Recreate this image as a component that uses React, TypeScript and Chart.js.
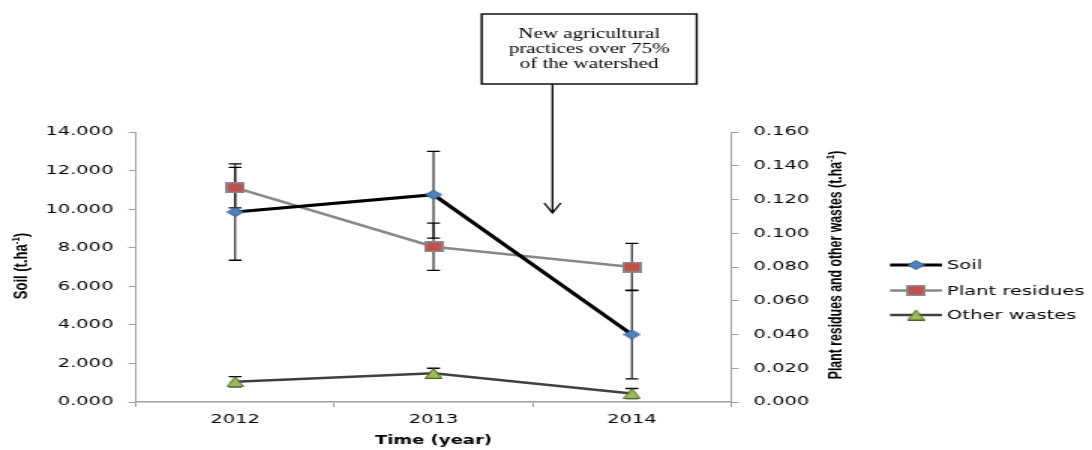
import React, { useEffect, useRef } from 'react';
import { Chart, registerables } from 'chart.js';

Chart.register(...registerables);

// ---------- data ----------
const years = ['2012', '2013', '2014'];
const seriesLabels = ['Soil', 'Plant residues', 'Other wastes'];
const soil = [9.85, 10.75, 3.5];
const soilErr = [2.5, 2.25, 2.3];
const plantResidues = [0.127, 0.092, 0.08];
const plantErr = [0.012, 0.014, 0.014];
const otherWastes = [0.012, 0.017, 0.005];
const otherErr = [0.003, 0.003, 0.003];
const leftAxis = { min: 0, max: 14, step: 2 };
const rightAxis = { min: 0, max: 0.16, step: 0.02 };
const annotationLines = ['New agricultural', 'practices over 75%', 'of the watershed'];
const annotationAt = 1.6; // position between 2013 and 2014 (category index)
const annotationTip = 9.8; // left-axis value at arrow tip
const xTitle = 'Time (year)';
const leftTitle = ['Soil (t.ha', '-1', ')'];
const rightTitle = ['Plant residues and other wastes (t.ha', '-1', ')'];

// ---------- layout ----------
const W = 1092;
const H = 450;
const SX = 1.5; // horizontal stretch of the whole drawing
const CW = Math.round(W / SX);
const PLOT_LEFT = 136 / SX;
const PLOT_RIGHT = 731 / SX;
const PLOT_TOP = 132;
const PLOT_BOTTOM = 402;

const TICK_FONT = { family: '"DejaVu Sans", Verdana, sans-serif', size: 13 };
const AXIS_COLOR = '#A0A0A0';

function makeMarker(kind: string): HTMLCanvasElement {
  const c = document.createElement('canvas');
  let w = 12, h = 10;
  if (kind === 'square') { w = 13; h = 11; }
  if (kind === 'triangle') { w = 12; h = 11; }
  c.width = w; c.height = h;
  const ctx = c.getContext('2d')!;
  ctx.lineWidth = 1;
  ctx.beginPath();
  if (kind === 'diamond') {
    ctx.moveTo(w / 2, 0.5); ctx.lineTo(w - 0.5, h / 2); ctx.lineTo(w / 2, h - 0.5); ctx.lineTo(0.5, h / 2);
    ctx.closePath();
    ctx.fillStyle = '#4F81BD'; ctx.strokeStyle = '#385D8A';
  } else if (kind === 'square') {
    ctx.rect(0.75, 0.75, w - 1.5, h - 1.5);
    ctx.fillStyle = '#C0504D'; ctx.strokeStyle = '#8C8C8C'; ctx.lineWidth = 1.5;
  } else {
    ctx.moveTo(w / 2, 0.5); ctx.lineTo(w - 0.5, h - 0.5); ctx.lineTo(0.5, h - 0.5);
    ctx.closePath();
    ctx.fillStyle = '#9BBB59'; ctx.strokeStyle = '#4F6228';
  }
  ctx.fill(); ctx.stroke();
  return c;
}

function drawSupText(ctx: CanvasRenderingContext2D, parts: string[], x: number, y: number, size: number, family: string, rot: number) {
  const mainFont = `bold ${size}px ${family}`;
  const supFont = `bold ${Math.round(size * 0.62)}px ${family}`;
  ctx.save();
  ctx.translate(x, y);
  ctx.rotate(rot);
  ctx.textBaseline = 'middle';
  ctx.textAlign = 'left';
  ctx.fillStyle = '#000';
  ctx.font = mainFont; const w1 = ctx.measureText(parts[0]).width; const w3 = ctx.measureText(parts[2]).width;
  ctx.font = supFont; const w2 = ctx.measureText(parts[1]).width;
  let cx = -(w1 + w2 + w3) / 2;
  ctx.font = mainFont; ctx.fillText(parts[0], cx, 0); cx += w1;
  ctx.font = supFont; ctx.fillText(parts[1], cx, -size * 0.32); cx += w2;
  ctx.font = mainFont; ctx.fillText(parts[2], cx, 0);
  ctx.restore();
}

export default function App() {
  const ref = useRef<HTMLCanvasElement | null>(null);

  useEffect(() => {
    if (!ref.current) return;
    const markers = [makeMarker('diamond'), makeMarker('square'), makeMarker('triangle')];
    const errors = [soilErr, plantErr, otherErr];

    const errorBars = {
      id: 'errorBars',
      beforeDatasetsDraw(chart: any) {
        const ctx = chart.ctx;
        ctx.save();
        ctx.strokeStyle = '#000';
        chart.data.datasets.forEach((ds: any, i: number) => {
          const meta = chart.getDatasetMeta(i);
          const scale = chart.scales[ds.yAxisID];
          ds.data.forEach((v: number, j: number) => {
            const e = errors[i][j];
            const x = meta.data[j].x;
            const yt = scale.getPixelForValue(v + e);
            const yb = scale.getPixelForValue(v - e);
            ctx.lineWidth = 1;
            ctx.beginPath(); ctx.moveTo(x, yt); ctx.lineTo(x, yb); ctx.stroke();
            ctx.lineWidth = 1.3;
            ctx.beginPath();
            ctx.moveTo(x - 4.3, yt); ctx.lineTo(x + 4.3, yt);
            ctx.moveTo(x - 4.3, yb); ctx.lineTo(x + 4.3, yb);
            ctx.stroke();
          });
        });
        ctx.restore();
      },
    };

    const extras = {
      id: 'extras',
      afterDraw(chart: any) {
        const ctx = chart.ctx;
        const area = chart.chartArea;
        const xs = chart.scales.x;
        const ys = chart.scales.y;
        ctx.save();
        // axis titles
        const condensed = '"Liberation Sans Narrow", "Liberation Sans", Arial, sans-serif';
        drawSupText(ctx, leftTitle, 14.8, 266, 13, condensed, -Math.PI / 2);
        drawSupText(ctx, rightTitle, 558, 265, 12.3, condensed, -Math.PI / 2);
        ctx.font = 'bold 12px "DejaVu Sans", Verdana, sans-serif';
        ctx.fillStyle = '#000';
        ctx.textAlign = 'center';
        ctx.textBaseline = 'middle';
        ctx.fillText(xTitle, (area.left + area.right) / 2, 441);

        // legend
        const legendY = [265, 290.5, 315];
        const lx1 = 890 / SX, lx2 = 942 / SX, tx = 947 / SX;
        chart.data.datasets.forEach((ds: any, i: number) => {
          const y = legendY[i];
          ctx.strokeStyle = ds.borderColor;
          ctx.lineWidth = ds.borderWidth;
          ctx.beginPath(); ctx.moveTo(lx1, y); ctx.lineTo(lx2, y); ctx.stroke();
          const m = markers[i];
          ctx.drawImage(m, (lx1 + lx2) / 2 - m.width / 2, y - m.height / 2);
          ctx.font = `${TICK_FONT.size}px ${TICK_FONT.family}`;
          ctx.fillStyle = '#000';
          ctx.textAlign = 'left';
          ctx.textBaseline = 'middle';
          ctx.fillText(ds.label, tx, y + 1);
        });

        // annotation box + arrow
        const bx1 = 481.7 / SX, bx2 = 696.7 / SX, by1 = 14, by2 = 84;
        ctx.strokeStyle = '#000';
        ctx.lineWidth = 1.4;
        ctx.fillStyle = '#fff';
        ctx.fillRect(bx1, by1, bx2 - bx1, by2 - by1);
        ctx.strokeRect(bx1, by1, bx2 - bx1, by2 - by1);
        ctx.fillStyle = '#000';
        ctx.font = '14px "Liberation Serif", "Times New Roman", serif';
        ctx.textAlign = 'center';
        ctx.textBaseline = 'middle';
        annotationLines.forEach((t, k) => ctx.fillText(t, (bx1 + bx2) / 2, 34 + k * 15));
        const ax = xs.getPixelForValue(annotationAt);
        const ay = ys.getPixelForValue(annotationTip);
        ctx.lineWidth = 1.3;
        ctx.beginPath();
        ctx.moveTo(ax, by2); ctx.lineTo(ax, ay);
        ctx.moveTo(ax - 5.5, ay - 10); ctx.lineTo(ax, ay); ctx.lineTo(ax + 5.5, ay - 10);
        ctx.stroke();
        ctx.restore();
      },
    };

    const fmt = (v: any) => Number(v).toFixed(3);

    const chart = new Chart(ref.current, {
      type: 'line',
      data: {
        labels: years,
        datasets: [
          { label: seriesLabels[0], data: soil, yAxisID: 'y', borderColor: '#000000', borderWidth: 3.2, pointStyle: markers[0] as any, pointRadius: 5, tension: 0, order: 1 },
          { label: seriesLabels[1], data: plantResidues, yAxisID: 'y1', borderColor: '#888888', borderWidth: 2.6, pointStyle: markers[1] as any, pointRadius: 5, tension: 0, order: 2 },
          { label: seriesLabels[2], data: otherWastes, yAxisID: 'y1', borderColor: '#404040', borderWidth: 2.6, pointStyle: markers[2] as any, pointRadius: 5, tension: 0, order: 3 },
        ],
      },
      options: {
        responsive: false,
        devicePixelRatio: 1,
        animation: false,
        events: [],
        layout: { padding: { top: PLOT_TOP, left: 0, right: 0, bottom: 0 } },
        plugins: { legend: { display: false }, tooltip: { enabled: false } },
        scales: {
          x: {
            type: 'category',
            offset: true,
            grid: { display: true, drawOnChartArea: false, drawTicks: true, tickLength: 5, color: AXIS_COLOR, offset: true },
            border: { color: AXIS_COLOR, width: 1.5 },
            ticks: { font: TICK_FONT, color: '#000', padding: 5, maxRotation: 0 },
            afterFit: (s: any) => { s.height = H - PLOT_BOTTOM; },
          },
          y: {
            position: 'left',
            min: leftAxis.min,
            max: leftAxis.max,
            ticks: { stepSize: leftAxis.step, callback: fmt, font: TICK_FONT, color: '#000', padding: 10 },
            grid: { drawOnChartArea: false, tickLength: 5, color: AXIS_COLOR },
            border: { color: AXIS_COLOR, width: 1 },
            afterFit: (s: any) => { s.width = PLOT_LEFT; },
          },
          y1: {
            position: 'right',
            min: rightAxis.min,
            max: rightAxis.max,
            ticks: { stepSize: rightAxis.step, callback: fmt, font: TICK_FONT, color: '#000', padding: 10 },
            grid: { drawOnChartArea: false, tickLength: 5, color: AXIS_COLOR },
            border: { color: AXIS_COLOR, width: 1 },
            afterFit: (s: any) => { s.width = CW - PLOT_RIGHT; },
          },
        },
      } as any,
      plugins: [errorBars, extras],
    });
    return () => chart.destroy();
  }, []);

  return (
    <div style={{ position: 'absolute', left: 0, top: 0, width: W, height: H, background: '#fff' }}>
      <canvas ref={ref} width={CW} height={H} style={{ width: `${W}px`, height: `${H}px`, display: 'block' }} />
    </div>
  );
}
